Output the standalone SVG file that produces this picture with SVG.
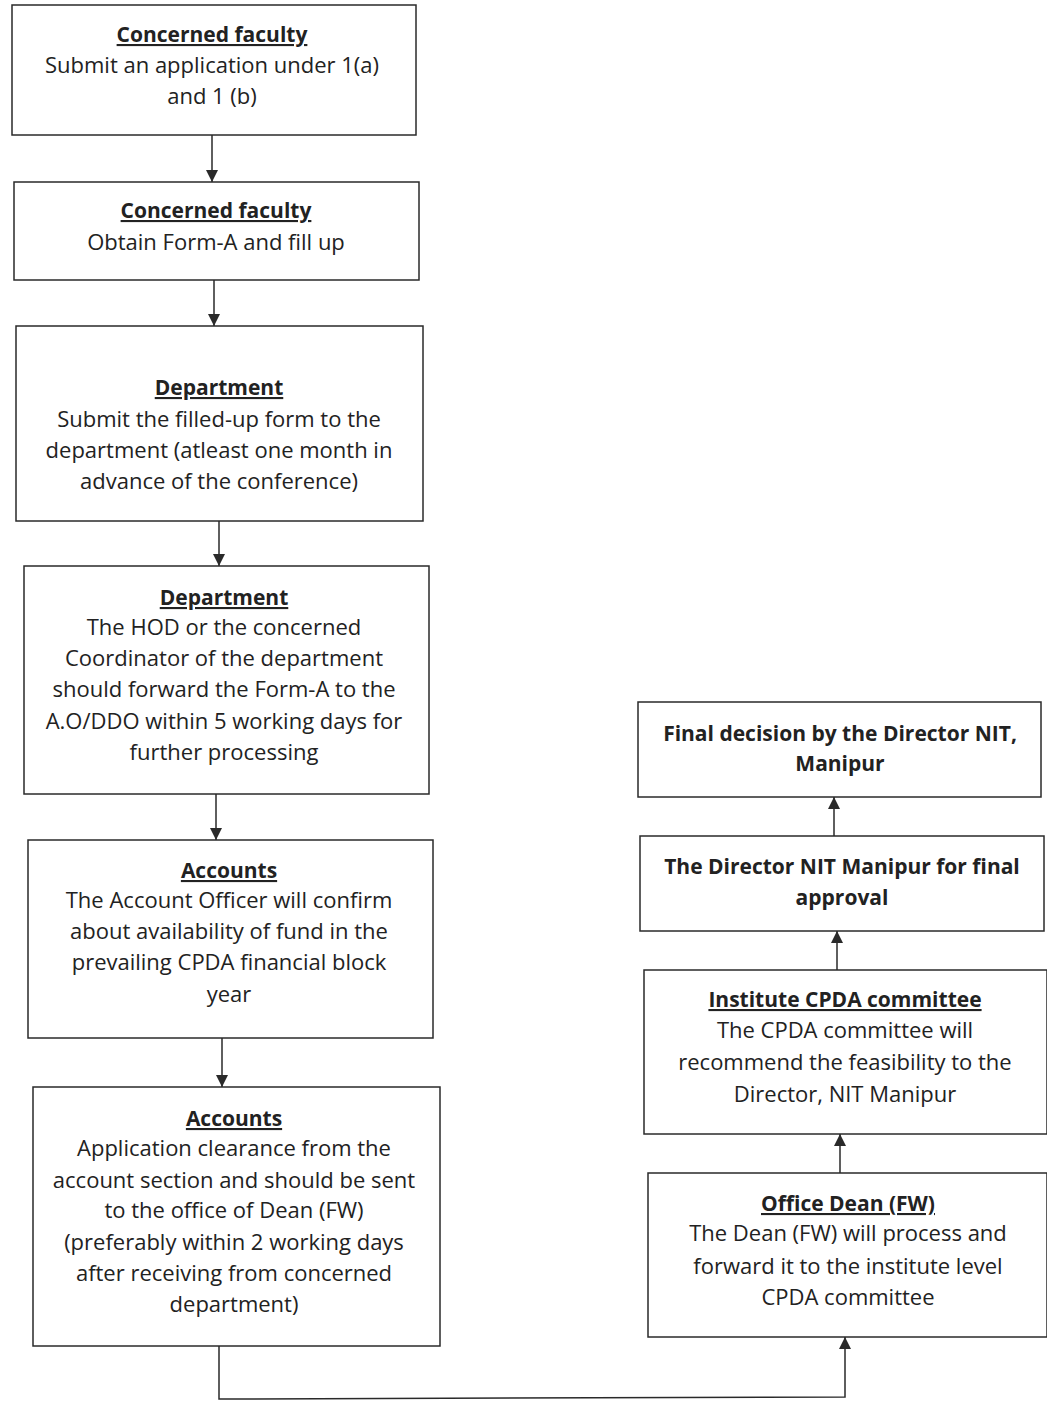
<svg xmlns="http://www.w3.org/2000/svg" width="1047" height="1407" viewBox="0 0 1047 1407">
<style>
.box{fill:#ffffff;stroke:#2a2a2a;stroke-width:1.5}
.t{font-family:"Open Sans","Liberation Sans",sans-serif;font-size:22px;fill:#222;text-anchor:middle}
.h{font-weight:bold;text-decoration:underline;font-size:21px}
.b{font-weight:bold;font-size:21px}
.c{stroke:#2a2a2a;stroke-width:1.5;fill:none}
</style>
<defs>
<marker id="ah" viewBox="0 0 10 10" refX="10" refY="5" markerWidth="14" markerHeight="12" markerUnits="userSpaceOnUse" orient="auto">
<path d="M0,0 L10,5 L0,10 z" fill="#2a2a2a"/>
</marker>
</defs>
<rect width="1047" height="1407" fill="#ffffff"/>
<g id="connectors">
<line class="c" x1="212" y1="135" x2="212" y2="182" marker-end="url(#ah)"/>
<line class="c" x1="214" y1="280" x2="214" y2="326" marker-end="url(#ah)"/>
<line class="c" x1="219" y1="521" x2="219" y2="566" marker-end="url(#ah)"/>
<line class="c" x1="216" y1="794" x2="216" y2="840" marker-end="url(#ah)"/>
<line class="c" x1="222" y1="1038" x2="222" y2="1087" marker-end="url(#ah)"/>
<polyline class="c" points="219,1346 219,1399 845,1397 845,1337" marker-end="url(#ah)"/>
<line class="c" x1="840" y1="1173" x2="840" y2="1134" marker-end="url(#ah)"/>
<line class="c" x1="837" y1="970" x2="837" y2="931" marker-end="url(#ah)"/>
<line class="c" x1="834" y1="836" x2="834" y2="797" marker-end="url(#ah)"/>
</g>
<g id="n1">
<rect class="box" x="12" y="5" width="404" height="130"/>
<text class="t h" x="212" y="42">Concerned faculty</text>
<text class="t" x="212" y="73">Submit an application under 1(a)</text>
<text class="t" x="212" y="104">and 1 (b)</text>
</g>
<g id="n2">
<rect class="box" x="14" y="182" width="405" height="98"/>
<text class="t h" x="216" y="218">Concerned faculty</text>
<text class="t" x="216" y="250">Obtain Form-A and fill up</text>
</g>
<g id="n3">
<rect class="box" x="16" y="326" width="407" height="195"/>
<text class="t h" x="219" y="395">Department</text>
<text class="t" x="219" y="427">Submit the filled-up form to the</text>
<text class="t" x="219" y="458">department (atleast one month in</text>
<text class="t" x="219" y="489">advance of the conference)</text>
</g>
<g id="n4">
<rect class="box" x="24" y="566" width="405" height="228"/>
<text class="t h" x="224" y="605">Department</text>
<text class="t" x="224" y="635">The HOD or the concerned</text>
<text class="t" x="224" y="666">Coordinator of the department</text>
<text class="t" x="224" y="697">should forward the Form-A to the</text>
<text class="t" x="224" y="729">A.O/DDO within 5 working days for</text>
<text class="t" x="224" y="760">further processing</text>
</g>
<g id="n5">
<rect class="box" x="28" y="840" width="405" height="198"/>
<text class="t h" x="229" y="878">Accounts</text>
<text class="t" x="229" y="908">The Account Officer will confirm</text>
<text class="t" x="229" y="939">about availability of fund in the</text>
<text class="t" x="229" y="970">prevailing CPDA financial block</text>
<text class="t" x="229" y="1002">year</text>
</g>
<g id="n6">
<rect class="box" x="33" y="1087" width="407" height="259"/>
<text class="t h" x="234" y="1126">Accounts</text>
<text class="t" x="234" y="1156">Application clearance from the</text>
<text class="t" x="234" y="1188">account section and should be sent</text>
<text class="t" x="234" y="1218">to the office of Dean (FW)</text>
<text class="t" x="234" y="1250">(preferably within 2 working days</text>
<text class="t" x="234" y="1281">after receiving from concerned</text>
<text class="t" x="234" y="1312">department)</text>
</g>
<g id="n7">
<rect class="box" x="638" y="702" width="403" height="95"/>
<text class="t b" x="840" y="741">Final decision by the Director NIT,</text>
<text class="t b" x="840" y="771">Manipur</text>
</g>
<g id="n8">
<rect class="box" x="640" y="836" width="404" height="95"/>
<text class="t b" x="842" y="874">The Director NIT Manipur for final</text>
<text class="t b" x="842" y="905">approval</text>
</g>
<g id="n9">
<rect class="box" x="644" y="970" width="403" height="164"/>
<text class="t h" x="845" y="1007">Institute CPDA committee</text>
<text class="t" x="845" y="1038">The CPDA committee will</text>
<text class="t" x="845" y="1070">recommend the feasibility to the</text>
<text class="t" x="845" y="1102">Director, NIT Manipur</text>
</g>
<g id="n10">
<rect class="box" x="648" y="1173" width="399" height="164"/>
<text class="t h" x="848" y="1211">Office Dean (FW)</text>
<text class="t" x="848" y="1241">The Dean (FW) will process and</text>
<text class="t" x="848" y="1274">forward it to the institute level</text>
<text class="t" x="848" y="1305">CPDA committee</text>
</g>
</svg>
